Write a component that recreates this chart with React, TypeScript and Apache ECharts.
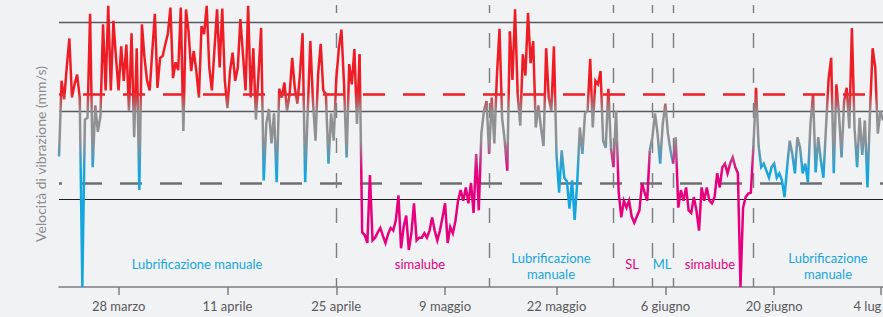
import React, { useEffect, useRef } from "react";
import * as echarts from "echarts";

// Vibration velocity samples (relative units: grid lines at 1, 2, 3), ~3 samples per day
const VALUES: number[] = [
  1.48, 2.34, 2.13, 2.5, 2.82, 2.15, 2.3, 2.41, 2.15, 0.0,
  1.9, 1.92, 3.1, 1.36, 2.06, 1.76, 1.94, 2.98, 2.23, 3.19,
  2.23, 3.02, 2.6, 2.23, 2.73, 2.34, 2.75, 2.0, 2.88, 1.7,
  2.71, 1.1, 2.98, 2.6, 2.34, 2.23, 2.68, 3.1, 2.26, 2.6,
  2.62, 2.75, 2.87, 3.17, 2.37, 2.55, 2.46, 3.17, 1.77, 3.15,
  2.9, 2.45, 2.68, 2.45, 2.15, 2.96, 2.87, 3.19, 2.49, 2.23,
  2.7, 3.15, 2.49, 3.16, 2.34, 2.03, 2.45, 2.66, 2.34, 2.49,
  3.04, 2.64, 2.23, 3.19, 2.15, 2.71, 1.9, 2.42, 2.94, 1.21,
  1.85, 2.02, 1.63, 1.97, 1.19, 2.25, 2.15, 2.32, 2.0, 2.19,
  2.6, 2.26, 2.08, 2.42, 2.88, 1.19, 2.0, 2.79, 2.11, 1.66,
  2.42, 2.76, 2.23, 2.19, 1.4, 1.97, 1.66, 2.36, 2.71, 2.92,
  2.3, 1.47, 2.53, 2.3, 2.7, 1.85, 2.64, 0.62, 0.59, 0.5,
  1.27, 0.53, 0.56, 0.62, 0.67, 0.58, 0.5, 0.6, 0.67, 0.64,
  0.76, 1.04, 0.44, 0.68, 0.81, 0.42, 0.61, 0.95, 0.53, 0.56,
  0.56, 0.61, 0.56, 0.64, 0.79, 0.64, 0.53, 0.64, 0.79, 0.95,
  0.5, 0.68, 0.61, 0.75, 0.98, 1.1, 0.98, 1.13, 0.95, 1.18,
  0.84, 1.51, 0.87, 1.74, 2.0, 2.11, 1.51, 2.15, 1.63, 2.4,
  2.93, 1.92, 1.66, 1.32, 2.9, 2.35, 3.15, 2.2, 1.83, 2.64,
  2.4, 3.11, 2.54, 2.79, 1.81, 2.06, 1.81, 1.6, 2.71, 2.15,
  2.0, 2.73, 1.5, 1.07, 1.55, 1.24, 1.2, 0.89, 1.21, 0.76,
  1.19, 1.81, 1.51, 1.97, 2.0, 2.59, 1.81, 2.34, 2.3, 2.45,
  1.66, 1.58, 2.25, 1.58, 1.36, 2.0, 1.07, 0.79, 0.98, 0.9,
  0.98, 0.8, 0.73, 0.8, 0.87, 1.18, 1.07, 0.98, 1.55, 1.7,
  1.97, 1.74, 1.4, 1.85, 2.08, 1.74, 1.55, 1.4, 1.7, 0.9,
  1.1, 0.98, 1.13, 0.87, 0.84, 1.02, 0.87, 0.64, 1.13, 0.98,
  1.13, 0.98, 0.95, 1.02, 1.29, 1.13, 1.36, 1.4, 1.29, 1.4,
  1.47, 1.36, 1.29, 0.0, 0.9, 1.02, 1.06, 1.07, 1.6, 2.26,
  1.6, 1.36, 1.4, 1.32, 1.24, 1.36, 1.4, 1.24, 1.29, 1.21,
  1.02, 1.36, 1.66, 1.51, 1.29, 1.7, 1.58, 1.29, 1.4, 1.19,
  1.85, 2.19, 1.3, 1.7, 1.44, 1.24, 1.81, 2.36, 2.6, 1.29,
  2.3, 1.97, 1.47, 2.11, 2.26, 1.8, 2.94, 1.81, 1.36, 1.92,
  1.5, 1.89, 1.13, 2.0, 2.71, 2.49, 1.74, 2.0, 1.89,
];

const CATEGORIES: string[] = VALUES.map((_, i) => String(i));

// Axis tick positions (sample index) and their labels
const TICK_INDEX = [23, 65, 107, 149, 192, 234, 276, 317];
const TICK_LABELS = ["28 marzo", "11 aprile", "25 aprile", "9 maggio", "22 maggio", "6 giugno", "20 giugno", "4 lug"];

// Lubrication phases (sample index ranges) and their type
const SEGMENT_START = [0, 116, 174, 213, 228, 237, 268];
const SEGMENT_END = [116, 174, 213, 228, 237, 268, 318];
const SEGMENT_KIND = ["manual", "auto", "manual", "auto", "manual", "auto", "manual"];

// Phase separators (sample index)
const PHASE_LINES = [107, 166, 214, 229, 237, 268];

// Alarm thresholds and reference grid levels
const THRESHOLD_HIGH = 2.19;
const THRESHOLD_LOW = 1.18;
const GRID_LEVELS = [3, 2, 1];

// Phase annotations
const REGION_TEXTS = [
  "Lubrificazione manuale",
  "simalube",
  "Lubrificazione\nmanuale",
  "SL",
  "ML",
  "simalube",
  "Lubrificazione\nmanuale",
];
const REGION_KINDS = ["manual", "auto", "manual", "auto", "manual", "auto", "manual"];

// --- styles ---
const W = 883;
const H = 317;
const BG = "#f1f2f4";
const RED = "#ee1d25";
const GRAY = "#909194";
const BLUE = "#15a6e0";
const MAGENTA = "#e6007e";
const FONT = "Lato, 'Open Sans', sans-serif";
const REGION_POS: [number, number][] = [
  [197, 264],
  [420, 264],
  [551, 266],
  [632, 264],
  [662, 264],
  [710, 264],
  [828, 266],
];

function gradient(low: string) {
  return new echarts.graphic.LinearGradient(
    0, 0, 0, H,
    [
      { offset: 0, color: RED },
      { offset: 0.29, color: RED },
      { offset: 0.355, color: GRAY },
      { offset: 0.44, color: GRAY },
      { offset: 0.54, color: low },
      { offset: 1, color: low },
    ],
    true
  );
}

export default function App() {
  const ref = useRef<HTMLDivElement>(null);

  useEffect(() => {
    if (!ref.current) return;
    const chart = echarts.init(ref.current, undefined, { renderer: "svg" });

    const isTick = (i: number) => TICK_INDEX.includes(i);
    const lastTick = TICK_INDEX[TICK_INDEX.length - 1];

    const lineSeries = SEGMENT_START.map((s, k) => ({
      type: "line",
      data: VALUES.map((v, i) => (i >= s && i <= SEGMENT_END[k] ? v : null)),
      showSymbol: false,
      symbol: "none",
      connectNulls: false,
      clip: false,
      silent: true,
      z: 3,
      lineStyle: {
        width: 2.5,
        color: gradient(SEGMENT_KIND[k] === "manual" ? BLUE : MAGENTA),
        join: "miter",
      },
    }));

    const markData: any[] = [
      ...GRID_LEVELS.map((lv) => ({
        yAxis: lv,
        lineStyle: lv === 1
          ? { color: "#1e1e1e", width: 1, type: "solid" }
          : { color: "#58595b", width: 1.3, type: "solid" },
      })),
      {
        yAxis: THRESHOLD_HIGH,
        lineStyle: { color: RED, width: 2.5, type: [22, 18], dashOffset: 15.7 },
      },
      {
        yAxis: THRESHOLD_LOW,
        lineStyle: { color: "#6e6f72", width: 2.5, type: [22, 18], dashOffset: 19 },
      },
      ...PHASE_LINES.map((ix) => ({
        xAxis: ix,
        lineStyle: { color: "#7c7d80", width: 1.4, type: [15, 20], dashOffset: 6 },
      })),
    ];

    const baseSeries = {
      type: "line",
      data: VALUES.map(() => null),
      showSymbol: false,
      symbol: "none",
      silent: true,
      z: 1,
      markLine: {
        z: 1,
        silent: true,
        symbol: ["none", "none"],
        label: { show: false },
        emphasis: { disabled: true },
        data: markData,
      },
    };

    const graphics: any[] = [
      {
        type: "text",
        x: 40,
        y: 154,
        rotation: Math.PI / 2,
        style: {
          text: "Velocità di vibrazione (mm/s)",
          fill: "#8a8b8e",
          font: `14px ${FONT}`,
          align: "center",
          verticalAlign: "middle",
        },
      },
      ...REGION_TEXTS.map((t, k) => ({
        type: "text",
        x: REGION_POS[k][0],
        y: REGION_POS[k][1],
        style: {
          text: t,
          fill: REGION_KINDS[k] === "manual" ? BLUE : MAGENTA,
          font: `13px ${FONT}`,
          align: "center",
          verticalAlign: "middle",
          lineHeight: 16,
        },
      })),
    ];

    chart.setOption({
      animation: false,
      backgroundColor: BG,
      grid: {
        left: 59,
        right: 0,
        top: 5,
        bottom: 30,
        containLabel: false,
        outerBoundsMode: "none",
      },
      xAxis: {
        type: "category",
        data: CATEGORIES,
        boundaryGap: false,
        axisLine: { show: true, lineStyle: { color: "#7d7e81", width: 1.5 } },
        axisTick: {
          show: true,
          interval: (i: number) => isTick(i),
          length: 8,
          lineStyle: { color: "#7d7e81", width: 1.5 },
        },
        axisLabel: {
          show: true,
          interval: (i: number) => isTick(i),
          formatter: (_v: string, i: number) => {
            const k = TICK_INDEX.indexOf(i);
            if (k < 0) return "";
            return i === lastTick ? `{edge|${TICK_LABELS[k]}}` : TICK_LABELS[k];
          },
          rich: {
            edge: {
              color: "#58595b",
              fontSize: 13,
              fontFamily: FONT,
              padding: [0, 26, 0, 0],
            },
          },
          color: "#58595b",
          fontSize: 13,
          fontFamily: FONT,
          margin: 12,
          hideOverlap: false,
        },
        splitLine: { show: false },
      },
      yAxis: {
        type: "value",
        min: 0,
        max: 3.2,
        show: false,
        splitLine: { show: false },
      },
      series: [baseSeries, ...lineSeries],
      graphic: graphics,
    });

    return () => chart.dispose();
  }, []);

  return (
    <div
      ref={ref}
      style={{ position: "fixed", left: 0, top: 0, width: W, height: H, background: BG }}
    />
  );
}
